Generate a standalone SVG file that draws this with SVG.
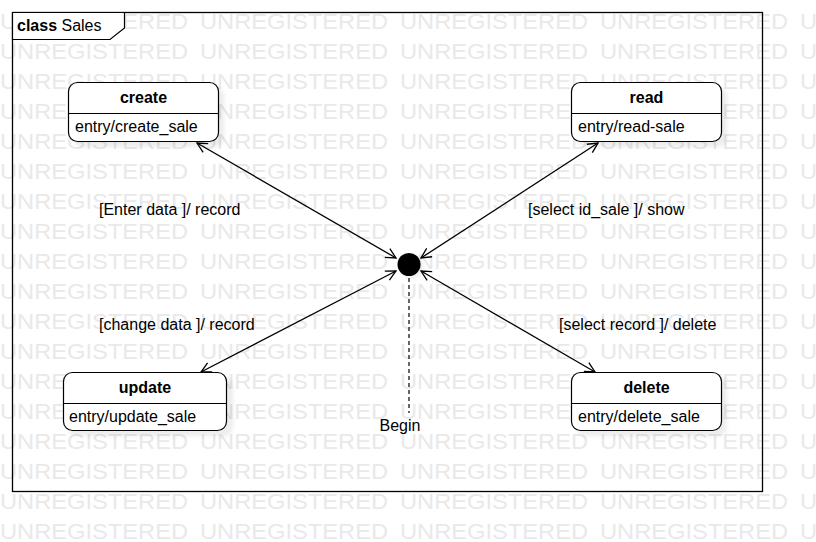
<svg xmlns="http://www.w3.org/2000/svg" xmlns:xlink="http://www.w3.org/1999/xlink" width="816" height="542" viewBox="0 0 816 542">
<defs>
<style>
text{font-family:"Liberation Sans",Arial,sans-serif;font-size:16px;fill:#000}
.wm{fill:#e9e9e9;font-size:22px}
.b{font-weight:bold}
.node{fill:#fff;stroke:#000;stroke-width:1.2}
.sep{stroke:#000;stroke-width:1.2}
.sh{fill:#000;opacity:0.07;filter:url(#blur)}
.edge{stroke:#000;stroke-width:1.3;fill:none;marker-start:url(#arr);marker-end:url(#arr)}
</style>
<filter id="blur" x="-20%" y="-20%" width="140%" height="140%"><feGaussianBlur stdDeviation="2"/></filter>
<marker id="arr" viewBox="0 0 12 12" refX="11" refY="6" markerWidth="12" markerHeight="12" markerUnits="userSpaceOnUse" orient="auto-start-reverse">
<path d="M1,1 L11,6 L1,11" fill="none" stroke="#000" stroke-width="1.3"/>
</marker>
<g id="wmrow">
<text class="wm" x="0" y="0" textLength="188" lengthAdjust="spacingAndGlyphs">UNREGISTERED</text>
<text class="wm" x="200" y="0" textLength="188" lengthAdjust="spacingAndGlyphs">UNREGISTERED</text>
<text class="wm" x="400" y="0" textLength="188" lengthAdjust="spacingAndGlyphs">UNREGISTERED</text>
<text class="wm" x="600" y="0" textLength="188" lengthAdjust="spacingAndGlyphs">UNREGISTERED</text>
<text class="wm" x="800" y="0" textLength="188" lengthAdjust="spacingAndGlyphs">UNREGISTERED</text>
</g>
</defs>
<rect width="816" height="542" fill="#fff"/>
<g id="watermark">
<use xlink:href="#wmrow" y="29"/><use xlink:href="#wmrow" y="59"/><use xlink:href="#wmrow" y="89"/>
<use xlink:href="#wmrow" y="119"/><use xlink:href="#wmrow" y="149"/><use xlink:href="#wmrow" y="179"/>
<use xlink:href="#wmrow" y="209"/><use xlink:href="#wmrow" y="239"/><use xlink:href="#wmrow" y="269"/>
<use xlink:href="#wmrow" y="299"/><use xlink:href="#wmrow" y="329"/><use xlink:href="#wmrow" y="359"/>
<use xlink:href="#wmrow" y="389"/><use xlink:href="#wmrow" y="419"/><use xlink:href="#wmrow" y="449"/>
<use xlink:href="#wmrow" y="479"/><use xlink:href="#wmrow" y="509"/><use xlink:href="#wmrow" y="539"/>
</g>
<g id="frame">
<rect x="12.5" y="12.5" width="750" height="479" fill="none" stroke="#000" stroke-width="1.3"/>
<path d="M12.5,12.5 H124.5 V28 L110,39.5 H12.5 Z" fill="#fff" stroke="#000" stroke-width="1.2"/>
<text x="17" y="31"><tspan class="b">class</tspan> Sales</text>
</g>
<g id="connectors">
<line class="edge" x1="197" y1="143" x2="396" y2="258"/>
<line class="edge" x1="598" y1="143" x2="421" y2="258"/>
<line class="edge" x1="201" y1="372" x2="396" y2="271"/>
<line class="edge" x1="595" y1="372" x2="421" y2="271"/>
<line x1="409" y1="278" x2="409" y2="413" stroke="#000" stroke-width="1.2" stroke-dasharray="4,3"/>
<text x="99" y="215">[Enter data ]/ record</text>
<text x="528" y="215">[select id_sale ]/ show</text>
<text x="99" y="330">[change data ]/ record</text>
<text x="559" y="330">[select record ]/ delete</text>
<text x="400" y="431" text-anchor="middle">Begin</text>
</g>
<g id="initial">
<circle cx="412" cy="268" r="11.5" class="sh"/>
<circle cx="409" cy="264.5" r="11.5" fill="#000"/>
</g>
<g id="create">
<rect x="73" y="87" width="151" height="60" rx="9" class="sh"/>
<rect x="68.5" y="82.5" width="150" height="59" rx="9" class="node"/>
<line x1="68.5" y1="113.5" x2="218.5" y2="113.5" class="sep"/>
<text x="143.5" y="103" text-anchor="middle" class="b">create</text>
<text x="75" y="132">entry/create_sale</text>
</g>
<g id="read">
<rect x="576" y="87" width="151" height="60" rx="9" class="sh"/>
<rect x="571.5" y="82.5" width="150" height="59" rx="9" class="node"/>
<line x1="571.5" y1="113.5" x2="721.5" y2="113.5" class="sep"/>
<text x="646.5" y="103" text-anchor="middle" class="b">read</text>
<text x="578" y="132">entry/read-sale</text>
</g>
<g id="update">
<rect x="68" y="377" width="165" height="59" rx="9" class="sh"/>
<rect x="63.5" y="372.5" width="163" height="58" rx="9" class="node"/>
<line x1="63.5" y1="403.5" x2="226.5" y2="403.5" class="sep"/>
<text x="145" y="393" text-anchor="middle" class="b">update</text>
<text x="69" y="422">entry/update_sale</text>
</g>
<g id="delete">
<rect x="576" y="377" width="151" height="59" rx="9" class="sh"/>
<rect x="571.5" y="372.5" width="150" height="58" rx="9" class="node"/>
<line x1="571.5" y1="403.5" x2="721.5" y2="403.5" class="sep"/>
<text x="646.5" y="393" text-anchor="middle" class="b">delete</text>
<text x="578" y="422">entry/delete_sale</text>
</g>
</svg>
